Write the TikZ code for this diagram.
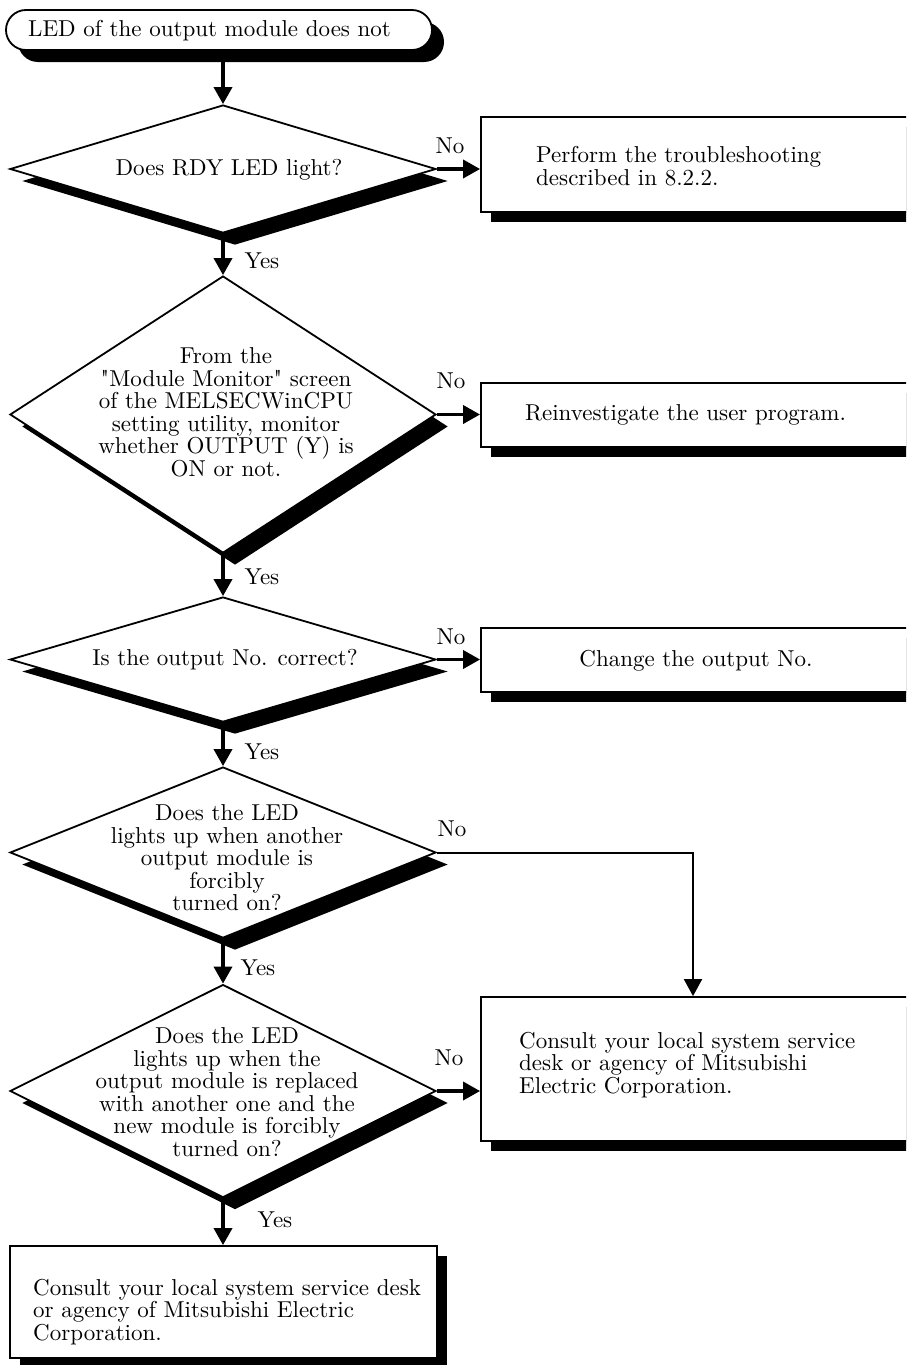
\documentclass[tikz,border=0pt]{standalone}
\usepackage{fontspec}
\setmainfont{lmroman10-regular.otf}[Ligatures=TeXOff]
\usetikzlibrary{shapes.geometric,shadows,arrows.meta}
\begin{document}
\begin{tikzpicture}[x=1pt,y=-1pt,
  every node/.style={font=\fontsize{23}{22.5}\selectfont},
  boxshadow/.style={drop shadow={shadow xshift=10pt,shadow yshift=-10pt,opacity=1,fill=black}},
  diashadow/.style={drop shadow={shadow xshift=12pt,shadow yshift=-12pt,opacity=1,fill=black}},
  termshadow/.style={drop shadow={shadow xshift=12pt,shadow yshift=-12pt,opacity=1,fill=black}},
  stepbox/.style={draw,line width=1.8pt,fill=white,inner sep=0pt,boxshadow},
  terminal/.style={draw,line width=1.8pt,fill=white,inner sep=0pt,rounded corners=20pt,termshadow},
  decision/.style={diamond,draw,line width=1.8pt,fill=white,inner sep=0pt,diashadow},
  flow/.style={line width=3.5pt,-{Triangle[length=17pt,width=18pt]}},
  thinflow/.style={line width=2pt,-{Triangle[length=17pt,width=18pt]}},
  lbl/.style={inner sep=0pt},
  txt/.style={align=center,inner sep=0pt},
  ltxt/.style={align=left,inner sep=0pt,anchor=west},
]
\clip (0,0) rectangle (906,1365);

% start terminator
\node[terminal,minimum width=426pt,minimum height=40pt] (start) at (219,30) {};
\node[ltxt] (startt) at (28,31) {LED of the output module does not};

% decisions
\node[decision,minimum width=426pt,minimum height=128pt] (d1) at (223,169) {};
\node[txt] (d1t) at (229,170) {Does RDY LED light?};

\node[decision,minimum width=426pt,minimum height=277pt] (d2) at (223,414.5) {};
\node[txt] (d2t) at (226,412.5) {From the\\\char34 Module Monitor\char34{} screen\\of the MELSECWinCPU\\setting utility, monitor\\whether OUTPUT (Y) is\\ON or not.};

\node[decision,minimum width=426pt,minimum height=125pt] (d3) at (223,659.5) {};
\node[txt] (d3t) at (225,660) {Is the output No. correct?};

\node[decision,minimum width=426pt,minimum height=171pt] (d4) at (223,852.5) {};
\node[txt] (d4t) at (227,858) {Does the LED\\lights up when another\\output module is\\forcibly\\turned on?};

\node[decision,minimum width=426pt,minimum height=213pt] (d5) at (223,1091) {};
\node[txt] (d5t) at (227,1092) {Does the LED\\lights up when the\\output module is replaced\\with another one and the\\new module is forcibly\\turned on?};

% action boxes
\node[stepbox,minimum width=469pt,minimum height=95pt] (b1) at (715.5,164.5) {};
\node[ltxt] (b1t) at (536,166) {Perform the troubleshooting\\described in 8.2.2.};

\node[stepbox,minimum width=469pt,minimum height=64pt] (b2) at (715.5,415) {};
\node[ltxt] (b2t) at (525,415) {Reinvestigate the user program.};

\node[stepbox,minimum width=469pt,minimum height=64pt] (b3) at (715.5,660) {};
\node[txt] (b3t) at (696,661) {Change the output No.};

\node[stepbox,minimum width=469pt,minimum height=144pt] (b4) at (715.5,1069) {};
\node[ltxt] (b4t) at (519,1065) {Consult your local system service\\desk or agency of Mitsubishi\\Electric Corporation.};

\node[stepbox,minimum width=427pt,minimum height=112pt] (b5) at (223.5,1302) {};
\node[ltxt] (b5t) at (33,1312) {Consult your local system service desk\\or agency of Mitsubishi Electric\\Corporation.};

% connectors
\draw[flow] (d1.north |- start.south) -- (d1.north);
\draw[flow] (d1.south) -- (d2.north);
\draw[flow] (d2.south) -- (d3.north);
\draw[flow] (d3.south) -- (d4.north);
\draw[flow] (d4.south) -- (d5.north);
\draw[flow] (d5.south) -- (d5.south |- b5.north);

\draw[flow] (d1.east) -- (d1.east -| b1.west);
\draw[flow] (d2.east) -- (d2.east -| b2.west);
\draw[flow] (d3.east) -- (d3.east -| b3.west);
\draw[thinflow] (d4.east) -- (693,852.5) -- (693,852.5 |- b4.north);
\draw[flow] (d5.east) -- (d5.east -| b4.west);

% branch labels
\node[lbl] (no1) at (450,146) {No};
\node[lbl] (no2) at (451,381) {No};
\node[lbl] (no3) at (451,637) {No};
\node[lbl] (no4) at (452,829) {No};
\node[lbl] (no5) at (449,1058) {No};
\node[lbl] (yes1) at (262,261) {Yes};
\node[lbl] (yes2) at (262,577) {Yes};
\node[lbl] (yes3) at (262,752) {Yes};
\node[lbl] (yes4) at (258,968) {Yes};
\node[lbl] (yes5) at (275,1220) {Yes};
\end{tikzpicture}
\end{document}
